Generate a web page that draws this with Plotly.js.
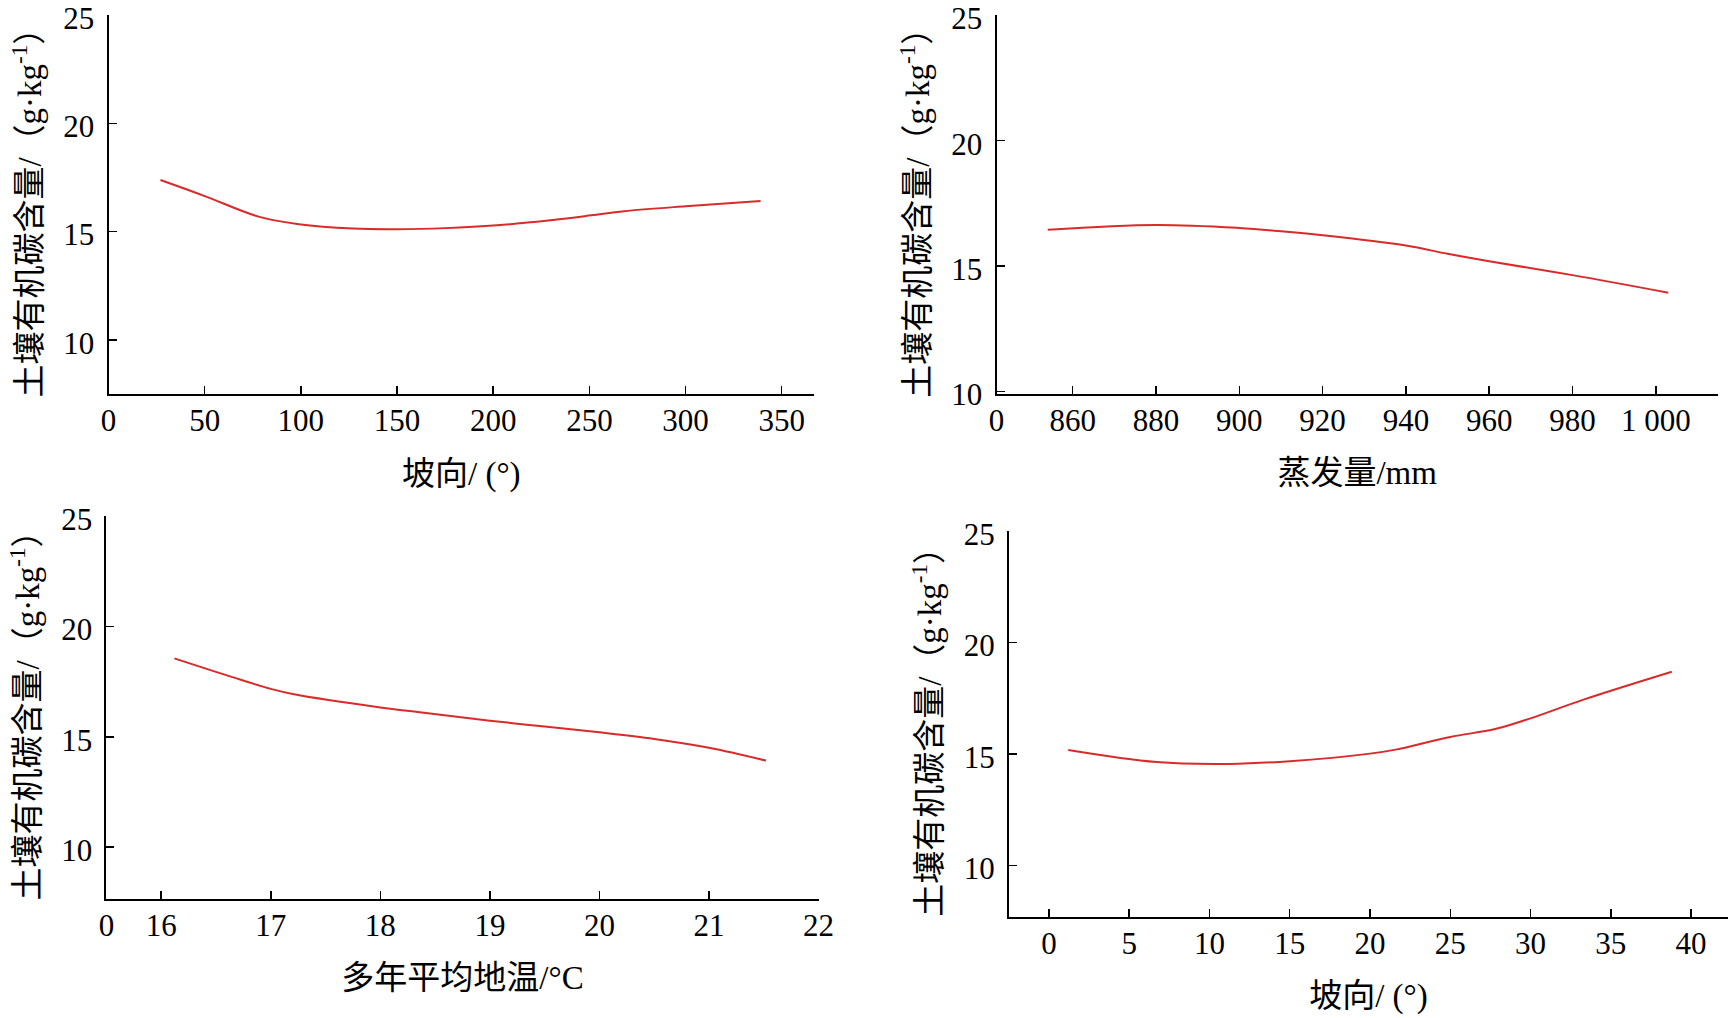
<!DOCTYPE html>
<html>
<head>
<meta charset="utf-8">
<script src="https://cdn.plot.ly/plotly-3.0.1.min.js"></script>
<style>
  body { margin: 0; background: #fff; overflow: hidden; }
  #chart { width: 1728px; height: 1018px; }
</style>
</head>
<body>
<div id="chart"></div>
<script>
// soil organic carbon (g/kg) vs. four factors
var aspectX = [27, 50, 78, 99, 127, 150, 175, 202, 231, 251, 268, 300, 339];
var aspectY = [17.38, 16.64, 15.69, 15.34, 15.14, 15.11, 15.16, 15.29, 15.54, 15.75, 15.94, 16.17, 16.41];

var evapX = [854, 880, 900, 910, 920, 940, 950, 960, 980, 1003];
var evapY = [16.45, 16.64, 16.52, 16.39, 16.23, 15.82, 15.49, 15.19, 14.64, 13.94];

var tempX = [16.12, 16.65, 17.0, 17.2, 18.0, 18.36, 19.0, 19.5, 20.0, 20.5, 21.0, 21.52];
var tempY = [18.55, 17.70, 17.17, 16.94, 16.33, 16.11, 15.73, 15.46, 15.2, 14.9, 14.5, 13.92];

var slopeX = [1.2, 6.7, 11.2, 15, 20, 21.6, 25, 27.8, 30, 33.3, 38.8];
var slopeY = [15.18, 14.64, 14.56, 14.68, 15.02, 15.2, 15.77, 16.12, 16.6, 17.44, 18.69];

// tick labels (the "0" sits on the axis origin as in the figure)
var aspectTicks = [0, 50, 100, 150, 200, 250, 300, 350];
var evapTickVals = [841.7, 860, 880, 900, 920, 940, 960, 980, 1000];
var evapTickText = ['0', '860', '880', '900', '920', '940', '960', '980', '1 000'];
var tempTickVals = [15.5, 16, 17, 18, 19, 20, 21, 22];
var tempTickText = ['0', '16', '17', '18', '19', '20', '21', '22'];
var slopeTicks = [0, 5, 10, 15, 20, 25, 30, 35, 40];
var socTicks = [10, 15, 20, 25];

var yTitle = '土壤有机碳含量/（g·kg<sup>-1</sup>）';
var redLine = {color: 'rgb(218, 42, 42)', width: 2, shape: 'spline'};
var titleFont = {size: 33};

var data = [
  {x: aspectX, y: aspectY, type: 'scatter', mode: 'lines', line: redLine, xaxis: 'x', yaxis: 'y'},
  {x: evapX, y: evapY, type: 'scatter', mode: 'lines', line: redLine, xaxis: 'x2', yaxis: 'y2'},
  {x: tempX, y: tempY, type: 'scatter', mode: 'lines', line: redLine, xaxis: 'x3', yaxis: 'y3'},
  {x: slopeX, y: slopeY, type: 'scatter', mode: 'lines', line: redLine, xaxis: 'x4', yaxis: 'y4'}
];

function xAxis(domain, range, vals, text, title, anchor) {
  return {
    domain: domain, range: range, anchor: anchor,
    tickmode: 'array', tickvals: vals, ticktext: text || vals.map(String),
    ticks: 'inside', ticklen: 8, tickwidth: 1.5, tickcolor: '#000',
    ticklabelstandoff: -2, ticklabeloverflow: 'allow',
    showline: true, linecolor: '#000', linewidth: 2,
    showgrid: false, zeroline: false,
    title: {text: title, font: titleFont, standoff: 24}
  };
}

function yAxis(domain, range, anchor) {
  return {
    domain: domain, range: range, anchor: anchor,
    tickmode: 'array', tickvals: socTicks,
    ticks: 'inside', ticklen: 8, tickwidth: 1.5, tickcolor: '#000',
    ticklabelstandoff: 6, ticklabelshift: 3, ticklabeloverflow: 'allow',
    showline: true, linecolor: '#000', linewidth: 2,
    showgrid: false, zeroline: false,
    title: {text: yTitle, font: titleFont, standoff: 12}
  };
}

var layout = {
  width: 1728,
  height: 1018,
  margin: {l: 0, r: 0, t: 0, b: 0},
  paper_bgcolor: '#fff',
  plot_bgcolor: '#fff',
  showlegend: false,
  font: {family: "'Liberation Serif', 'Times New Roman', 'Noto Sans CJK SC', serif", size: 31, color: '#000'},
  xaxis: xAxis([0.0628, 0.4711], [0, 366.8], aspectTicks, null, '坡向/ (°)', 'y'),
  yaxis: yAxis([0.6127, 0.9853], [7.49, 25], 'x'),
  xaxis2: xAxis([0.5767, 0.9941], [841.7, 1014.9], evapTickVals, evapTickText, '蒸发量/mm', 'y2'),
  yaxis2: yAxis([0.6130, 0.9849], [9.9, 25], 'x2'),
  xaxis3: xAxis([0.0616, 0.4737], [15.5, 22], tempTickVals, tempTickText, '多年平均地温/°C', 'y3'),
  yaxis3: yAxis([0.1169, 0.4931], [7.65, 25], 'x3'),
  xaxis4: xAxis([0.5839, 1.0], [-2.49, 42.3], slopeTicks, null, '坡向/ (°)', 'y4'),
  yaxis4: yAxis([0.0995, 0.4784], [7.71, 25], 'x4')
};

Plotly.newPlot('chart', data, layout, {displayModeBar: false, staticPlot: true});
</script>
</body>
</html>
